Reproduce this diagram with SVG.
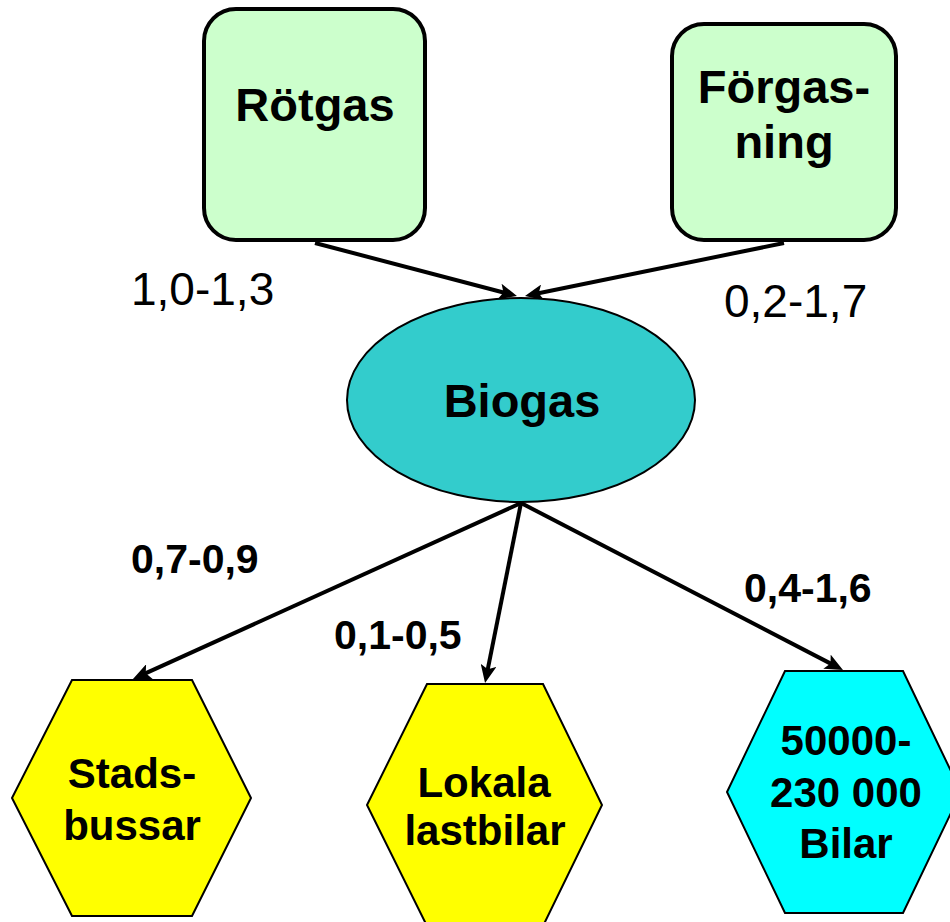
<svg xmlns="http://www.w3.org/2000/svg" width="950" height="922" viewBox="0 0 950 922">
<style>
.box{fill:#CCFFCC;stroke:#000;stroke-width:4}
.ell{fill:#33CCCC;stroke:#000;stroke-width:2}
.hexy{fill:#FFFF00;stroke:#000;stroke-width:2}
.hexc{fill:#00FFFF;stroke:#000;stroke-width:2}
.t{font-family:"Liberation Sans",Arial,sans-serif;font-weight:bold;fill:#000;text-anchor:middle}
.big{font-size:47px}
.mid{font-size:42px}
.lr{font-family:"Liberation Sans",Arial,sans-serif;font-size:46px;fill:#000}
.lb{font-family:"Liberation Sans",Arial,sans-serif;font-size:41px;font-weight:bold;fill:#000}
.c{stroke:#000;stroke-width:4;fill:none;marker-end:url(#ah)}
</style>
<defs>
<marker id="ah" viewBox="0 0 18 16" markerWidth="18" markerHeight="16" refX="8" refY="8" orient="auto" markerUnits="userSpaceOnUse">
<path d="M0,0 L18,8 L0,16 L4,8 z" fill="#000"/>
</marker>
</defs>
<rect width="950" height="922" fill="#fff"/>
<g id="connectors">
<line class="c" x1="315" y1="243" x2="507.3" y2="293.5"/>
<line class="c" x1="784" y1="243" x2="534.8" y2="294"/>
<line class="c" x1="521" y1="503" x2="142.1" y2="674.9"/>
<line class="c" x1="521" y1="503" x2="487" y2="673.2"/>
<line class="c" x1="521" y1="503" x2="834.1" y2="665.4"/>
</g>
<g id="rotgas">
<rect class="box" x="204" y="9" width="221" height="231" rx="32"/>
<text class="t big" x="315" y="121">Rötgas</text>
</g>
<g id="forgasning">
<rect class="box" x="672" y="24" width="224" height="216" rx="32"/>
<text class="t big" x="784" y="103">Förgas-</text>
<text class="t big" x="784" y="158">ning</text>
</g>
<g id="biogas">
<ellipse class="ell" cx="521" cy="400" rx="174" ry="102"/>
<text class="t big" x="522" y="417">Biogas</text>
</g>
<g id="stadsbussar">
<polygon class="hexy" points="72,680 192,680 251,798 192,916 72,916 12,798"/>
<text class="t mid" x="132" y="788">Stads-</text>
<text class="t mid" x="132" y="840">bussar</text>
</g>
<g id="lokala">
<polygon class="hexy" points="427,684 543,684 602,805 543,926 427,926 367,805"/>
<text class="t mid" x="484" y="797">Lokala</text>
<text class="t mid" x="485" y="845">lastbilar</text>
</g>
<g id="bilar">
<polygon class="hexc" points="785,671 903,671 961,792 903,913 785,913 727,792"/>
<text class="t mid" x="846" y="755">50000-</text>
<text class="t mid" x="846" y="807">230 000</text>
<text class="t mid" x="846" y="858">Bilar</text>
</g>
<g id="labels">
<text class="lr" x="131" y="305">1,0-1,3</text>
<text class="lr" x="724" y="317">0,2-1,7</text>
<text class="lb" x="131" y="573">0,7-0,9</text>
<text class="lb" x="334" y="649">0,1-0,5</text>
<text class="lb" x="744" y="602">0,4-1,6</text>
</g>
</svg>
